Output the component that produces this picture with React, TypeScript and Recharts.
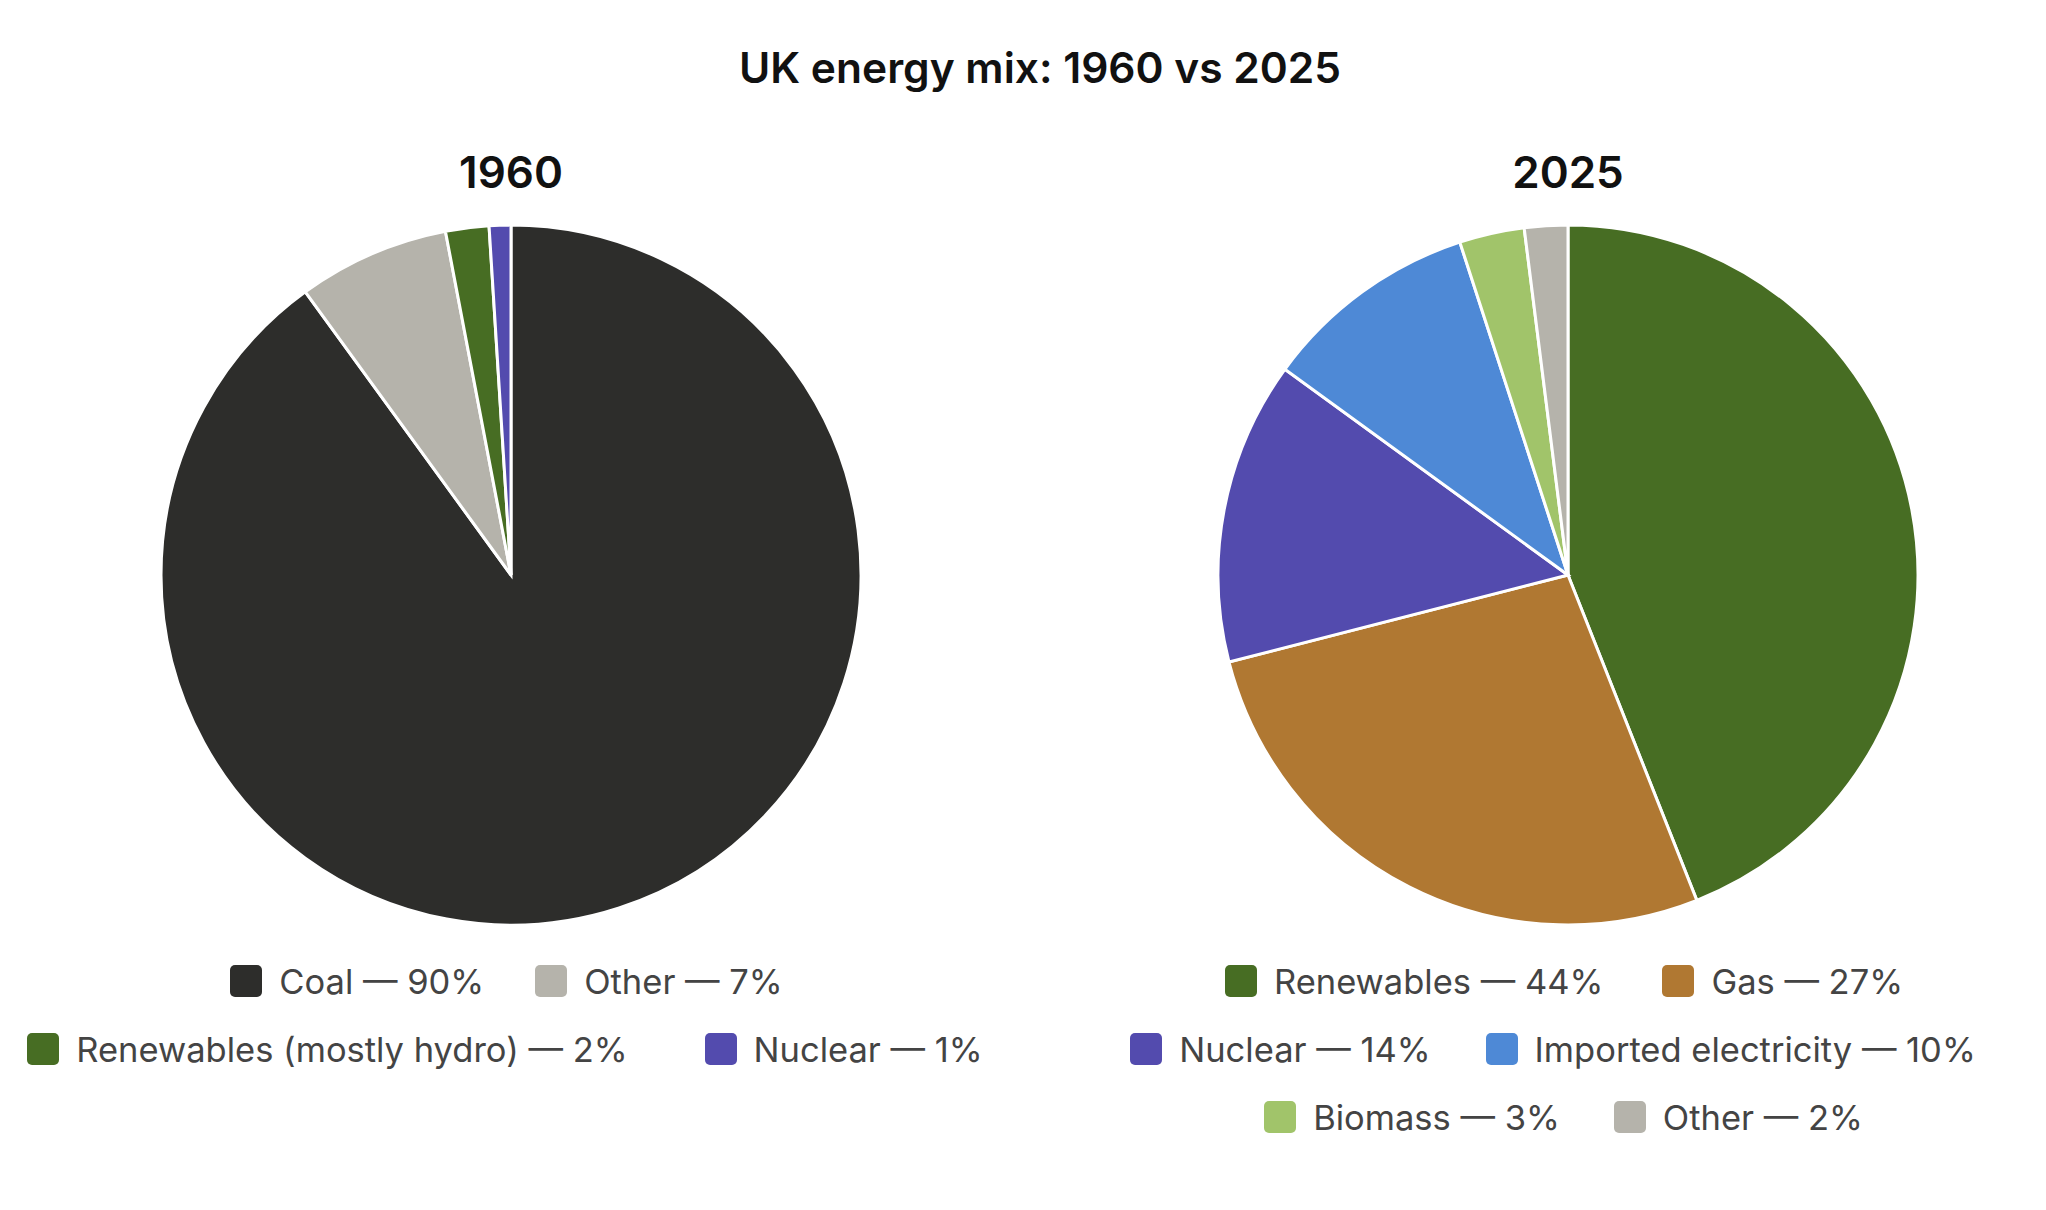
import React from 'react';
import { PieChart, Pie, Cell, Legend } from 'recharts';

// UK energy mix, share of total (%)
const sources1960 = ['Coal', 'Other', 'Renewables (mostly hydro)', 'Nuclear'];
const shares1960 = [90, 7, 2, 1];
const colors1960 = ['#2d2d2b', '#b5b3ab', '#476d23', '#534bae'];

const sources2025 = ['Renewables', 'Gas', 'Nuclear', 'Imported electricity', 'Biomass', 'Other'];
const shares2025 = [44, 27, 14, 10, 3, 2];
const colors2025 = ['#476d23', '#b07832', '#534bae', '#4e89d6', '#a1c46a', '#b5b3ab'];

const chartTitle = 'UK energy mix: 1960 vs 2025';
const years = ['1960', '2025'];

const FONT = 'Inter, "Noto Sans", "Liberation Sans", sans-serif';

type MixProps = {
  year: string;
  names: string[];
  values: number[];
  colors: string[];
  left: number;
  cx: number;
  legendCenter: number;
};

function MixLegend({ names, values, colors }: { names: string[]; values: number[]; colors: string[] }) {
  return (
    <div
      style={{
        display: 'flex',
        flexWrap: 'wrap',
        justifyContent: 'center',
        columnGap: 38,
        rowGap: 34,
        fontFamily: FONT,
        fontSize: 34.5,
        color: '#444',
      }}
    >
      {names.map((n, i) => {
        const label = `${n} — ${values[i]}%`;
        return (
          <div
            key={n}
            style={{ display: 'flex', alignItems: 'center', height: 34, paddingRight: Math.round(label.length * 1.3) }}
          >
            <span
              style={{
                width: 32,
                height: 32,
                borderRadius: 5,
                background: colors[i],
                marginRight: 17,
                display: 'inline-block',
                flex: 'none',
              }}
            />
            <span style={{ whiteSpace: 'nowrap' }}>{label}</span>
          </div>
        );
      })}
    </div>
  );
}

function MixPie({ year, names, values, colors, left, cx, legendCenter }: MixProps) {
  const data = names.map((name, i) => ({ name, share: values[i] }));
  const chartW = 1023;
  const legendW = 1010;
  return (
    <div style={{ position: 'absolute', left, top: 0, width: chartW, height: 1210 }}>
      <div
        style={{
          position: 'absolute',
          left: cx - 200,
          width: 400,
          top: 148,
          height: 48,
          lineHeight: '48px',
          textAlign: 'center',
          fontFamily: FONT,
          fontWeight: 600,
          fontSize: 44,
          color: '#111',
        }}
      >
        {year}
      </div>
      <PieChart width={chartW} height={1210} margin={{ top: 0, right: 0, bottom: 0, left: 0 }}>
        <Pie
          data={data}
          dataKey="share"
          nameKey="name"
          cx={cx}
          cy={575}
          outerRadius={350}
          startAngle={90}
          endAngle={-270}
          stroke="#ffffff"
          strokeWidth={3}
          isAnimationActive={false}
        >
          {data.map((d, i) => (
            <Cell key={d.name} fill={colors[i]} />
          ))}
        </Pie>
        <Legend
          content={() => <MixLegend names={names} values={values} colors={colors} />}
          wrapperStyle={{ position: 'absolute', left: legendCenter - legendW / 2, top: 964, width: legendW, bottom: 'auto' }}
        />
      </PieChart>
    </div>
  );
}

export default function App() {
  return (
    <div style={{ position: 'absolute', left: 0, top: 0, width: 2046, height: 1210, background: '#fff', overflow: 'hidden' }}>
      <div
        style={{
          position: 'absolute',
          left: 540,
          width: 1000,
          top: 42,
          height: 52,
          lineHeight: '52px',
          textAlign: 'center',
          fontFamily: FONT,
          fontWeight: 600,
          fontSize: 42.5,
          color: '#111',
        }}
      >
        {chartTitle}
      </div>
      <MixPie year={years[0]} names={sources1960} values={shares1960} colors={colors1960} left={0} cx={511} legendCenter={513} />
      <MixPie year={years[1]} names={sources2025} values={shares2025} colors={colors2025} left={1023} cx={545} legendCenter={547} />
    </div>
  );
}
